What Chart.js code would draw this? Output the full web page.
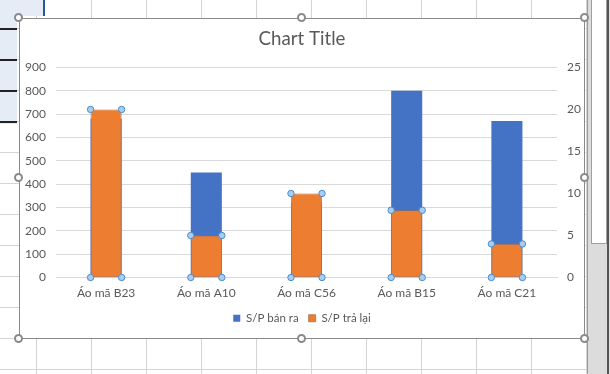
<!DOCTYPE html>
<html>
<head>
<meta charset="utf-8">
<script src="https://cdn.jsdelivr.net/npm/chart.js@4"></script>
<style>
  html,body{margin:0;padding:0;}
  body{
    width:610px;height:374px;overflow:hidden;position:relative;background:#fff;
    background-image:
      repeating-linear-gradient(to right, transparent 0 36px, #d4d4d4 36px 37px, transparent 37px 55px),
      repeating-linear-gradient(to bottom, transparent 0 28px, #d4d4d4 28px 29px, transparent 29px 31px);
    background-position:0 0, 0 0;
  }
  .leftcol{position:absolute;left:0;top:0;width:17px;height:124px;background:#e6ecf5;
    background-image:repeating-linear-gradient(to bottom, transparent 0 28px, #222 28px 30px, transparent 30px 31px);}
  .topcell{position:absolute;left:0;top:0;width:43px;height:16px;background:#e6ecf5;border-right:2px solid #2f5597;}
  .scroll{position:absolute;left:587px;top:0;width:23px;height:374px;background:#dcdcdc;border-left:1px solid #9a9a9a;}
  .scroll .thumb{position:absolute;left:3px;top:0;width:14px;height:243px;background:#fff;border:1px solid #a0a0a0;border-top:none;}
  .scroll .edge{position:absolute;left:19px;top:0;width:2px;height:374px;background:#555;}
  #frame{position:absolute;left:19px;top:18px;width:566px;height:321px;background:#fff;
    box-sizing:border-box;border:1px solid #8a8a8a;}
  #frame canvas{position:absolute;left:0;top:0;}
  .h{position:absolute;width:9px;height:9px;border-radius:50%;background:#fff;border:2px solid #8a8a8a;box-sizing:border-box;}
</style>
</head>
<body>
<div class="topcell"></div>
<div class="leftcol"></div>
<div class="scroll"><div class="thumb"></div><div class="edge"></div></div>
<div id="frame"><canvas id="chart" width="564" height="319"></canvas></div>
<div class="h" style="left:14px;top:13px"></div>
<div class="h" style="left:297px;top:13px"></div>
<div class="h" style="left:580px;top:13px"></div>
<div class="h" style="left:14px;top:173px"></div>
<div class="h" style="left:580px;top:173px"></div>
<div class="h" style="left:14px;top:334px"></div>
<div class="h" style="left:297px;top:334px"></div>
<div class="h" style="left:580px;top:334px"></div>
<script>
/* ===== Data ===== */
const categories = ['Áo mã B23','Áo mã A10','Áo mã C56','Áo mã B15','Áo mã C21'];
const soldLabel = 'S/P bán ra';
const returnedLabel = 'S/P trả lại';
const sold = [680, 450, 320, 800, 670];     // left axis
const returned = [20, 5, 10, 8, 4];          // right axis
const leftTicks = [0,100,200,300,400,500,600,700,800,900];
const rightTicks = [0,5,10,15,20,25];

const FONT = 'Lato, "Liberation Sans", sans-serif';
const TXT = '#595959';
const GRID = '#d9d9d9';

/* ===== Selection handles on the orange series ===== */
const handles = {
  id:'handles',
  afterDatasetsDraw(chart){
    const meta = chart.getDatasetMeta(1);
    const ctx = chart.ctx;
    ctx.save();
    meta.data.forEach(bar=>{
      const p = bar.getProps(['x','y','base','width'], true);
      const l = p.x - p.width/2, r = p.x + p.width/2;
      [[l,p.y],[r,p.y],[l,p.base],[r,p.base]].forEach(([hx,hy])=>{
        ctx.beginPath();
        ctx.arc(hx, hy, 3.2, 0, Math.PI*2);
        ctx.fillStyle = '#a9cdee';
        ctx.fill();
        ctx.lineWidth = 1;
        ctx.strokeStyle = '#4a8bcb';
        ctx.stroke();
      });
    });
    ctx.restore();
  }
};

new Chart(document.getElementById('chart'), {
  type:'bar',
  data:{
    labels: categories,
    datasets:[
      { label: soldLabel, data: sold, yAxisID:'y', backgroundColor:'#4472c4',
        grouped:false, order:1, categoryPercentage:1, barPercentage:0.31 },
      { label: returnedLabel, data: returned, yAxisID:'y1', backgroundColor:'#ed7d31',
        borderColor:'#a7704f', borderWidth:0.8, borderSkipped:false,
        grouped:false, order:0, categoryPercentage:1, barPercentage:0.31 }
    ]
  },
  plugins:[handles],
  options:{
    responsive:false, animation:false,
    layout:{ padding:{left:0,right:0,top:0,bottom:4} },
    plugins:{
      title:{ display:true, text:'Chart Title', color:TXT,
        font:{family:FONT, size:18.7, weight:'normal'}, padding:{top:9, bottom:17} },
      legend:{ position:'bottom',
        labels:{ color:TXT, font:{family:FONT, size:11.5}, boxWidth:7, boxHeight:7, padding:10,
          sort:(a,b)=>a.datasetIndex-b.datasetIndex } },
      tooltip:{ enabled:false }
    },
    scales:{
      x:{ grid:{display:false, drawTicks:false}, border:{color:GRID},
        afterFit:s=>{ s.height = 25; },
        ticks:{ color:TXT, font:{family:FONT, size:12}, padding:8, maxRotation:0 } },
      y:{ position:'left', min:0, max:900,
        afterBuildTicks:s=>{ s.ticks = leftTicks.map(v=>({value:v})); },
        afterFit:s=>{ s.width = 36; },
        grid:{ color:GRID, drawTicks:false }, border:{display:false},
        ticks:{ color:TXT, font:{family:FONT, size:12}, padding:10 } },
      y1:{ position:'right', min:0, max:25,
        afterBuildTicks:s=>{ s.ticks = rightTicks.map(v=>({value:v})); },
        afterFit:s=>{ s.width = 27; },
        grid:{ display:false, drawTicks:false }, border:{display:false},
        ticks:{ color:TXT, font:{family:FONT, size:12}, padding:10 } }
    }
  }
});
</script>
</body>
</html>
